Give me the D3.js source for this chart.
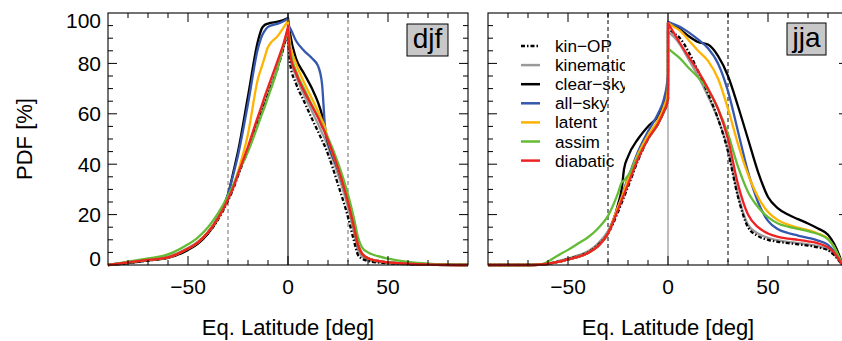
<!DOCTYPE html>
<html><head><meta charset="utf-8">
<script src="https://cdn.jsdelivr.net/npm/d3@7/dist/d3.min.js"></script>
<style>
body{margin:0;background:#fff}
text{font-family:"Liberation Sans",Arial,Helvetica,sans-serif;fill:#000}
</style>
</head><body>
<svg id="chart" width="842" height="341"></svg>
<script>
// ---------------- DATA ----------------
const seriesNames  = ["kin\u2212OP","kinematic","clear\u2212sky","all\u2212sky","latent","assim","diabatic"];
const seriesColors = ["#000000","#9a9a9a","#000000","#3557ad","#ffb300","#64bb35","#ee2222"];
const seriesDash   = ["4,2,1.5,2",null,null,null,null,null,null];
const drawOrder    = [1,0,2,3,4,5,6];

const xTicksMajor = [-50,0,50];
const xTickLabels = ["\u221250","0","50"];
const yTicksMajor = [0,20,40,60,80,100];
const yTickLabels = ["0","20","40","60","80","100"];
const dashedLats  = [-30,30];
const panelLabels = ["djf","jja"];

// DJF  (order of rows follows seriesNames)
const djfLeftLat = [-90,-80,-70,-60,-50,-45,-40,-35,-30,-27,-25,-20,-15,-13,-12,-10,-5,-2,0];
const djfLeft = [
  [0,0.8,1.8,3,6.2,8.8,12.5,18,25.5,31,35.5,45.5,56.5,61,63,67.5,78.5,87,93],   // kin-OP
  [0,1,2,3.3,6.7,9.3,13,18.5,26,31.5,36,46,57,61.5,63.5,68,79,87,93],           // kinematic
  [0,0.8,1.8,2.8,6,8.5,12.5,18.5,28,38,45,67,89,94,95,95.8,96.6,97.3,98],       // clear-sky
  [0,1,2,3,6.5,9,13,19,28,37,43.5,64,86,91,92.5,94.5,95.8,96.8,97.8],          // all-sky
  [0,1,2,3,6.5,9,13,18.5,26.5,32,37,52,74,79,81.5,86.5,91,94.5,97],             // latent
  [0,1.3,2.6,4.2,8.2,11,15,20.5,27.5,32.5,36.5,45,55.5,60,62,66.5,78.5,88,93],  // assim
  [0,1,2,3,6.5,9,13,18.5,26,31.5,36,47,59,63.5,66,70.5,81.5,88.5,94.5]          // diabatic
];
const djfRightLat = [0,1,4,8,12,15,17,18.5,20,25,30,33,35,37,40,45,50,60,70,90];
const djfRight = [
  [93,80,72,65,58,53,49.5,47,44,32,19,9.5,4,2.5,1.6,1,0.7,0.3,0.1,0],          // kin-OP
  [93,83,75,67.5,61,56,52.5,50,47,36,23,13,6,3.5,2,1.2,0.8,0.4,0.1,0],         // kinematic
  [98,92,82,76,70,64.5,59.5,53.5,48.5,38,25,15,8,4.5,2.7,1.6,1,0.5,0.2,0],     // clear-sky
  [95,94,89,85,82,79,72,55,49,38,25,15,8,4.5,2.7,1.6,1,0.5,0.2,0],             // all-sky
  [97,88,80,72.5,66,61,57.5,54.5,50,38.5,25,15,8,4.5,2.7,1.6,1,0.5,0.2,0],     // latent
  [93,86,77,70,63.5,59,55.5,53,50.5,40.5,28,18.5,11,7,5,3.5,2.5,1.2,0.5,0],    // assim
  [95,84,76,69,63,58.5,55,52.5,49.5,38.5,25,15,8,4.5,2.7,1.6,1,0.5,0.2,0]      // diabatic
];

// JJA
const jjaLeftLat = [-90,-70,-65,-62,-60,-55,-50,-45,-40,-35,-30,-25,-23,-22,-20,-15,-10,-5,-2,-0.5,0];
const jjaLeft = [
  [0,0,0.1,0.3,0.5,1.3,2.4,3.5,5,8,12.5,21,25,27,31,41.5,50,56,61,64,66],       // kin-OP
  [0,0,0.2,0.4,0.6,1.5,2.6,3.8,5.5,8.5,13.5,22.5,26.5,28.5,32.5,42.5,50.5,56,61,64,66], // kinematic
  [0,0,0.1,0.3,0.5,1.2,2.2,3.2,4.8,7.5,12.5,24,31,38,43,50,55,59,64,68,71],    // clear-sky
  [0,0,0.1,0.3,0.5,1.2,2.2,3.2,4.8,7.5,12.5,23,27.5,30,34.5,45,53,60,66,72,76],// all-sky
  [0,0,0.1,0.3,0.5,1.2,2.2,3.2,4.8,7.5,12.5,23,27,29.5,34,44,51.5,57.5,63,67,70], // latent
  [0,0,0.1,0.6,1.4,3.8,6,8.5,11,14.5,19.5,28.5,33,33.5,35.5,43,50,56,61,64.5,66], // assim
  [0,0,0.1,0.3,0.5,1.2,2.2,3.2,4.8,7.5,12.5,22,26,28,32,42,50,56,61,64,66]     // diabatic
];
const jjaRightLat = [0,3,6,10,15,20,25,30,35,40,45,50,55,60,65,70,75,80,83,86,87,90];
const jjaRight = [
  [94,92,90,85,77,68,58,45,27,15,11.5,10,9.2,8.7,8.2,7.7,7,5.8,4,1.2,0.3,0],     // kin-OP
  [92.5,90.5,87.5,82,75,67,58,46,28,16,12.5,10.8,9.8,9.2,8.7,8.2,7.5,6.2,4.3,1.3,0.3,0], // kinematic
  [96,95,93.5,91,88.5,87.5,83,75,63,50,37,27,22.5,20,18.2,16.5,14.5,12,8.5,3,0.5,0], // clear-sky
  [96.5,95.5,94.5,92.5,89.5,86,80,69,53,37,25,17.5,14.2,12.7,11.7,10.8,9.7,8,5.5,1.8,0.4,0], // all-sky
  [96,94.5,93,89.5,85,81,74,62,48,36,27,21,17.8,16,14.8,13.8,12.5,10.3,7.2,2.2,0.5,0], // latent
  [86,84,82,78.5,74.5,69.5,62,52,39,29,23,19,16.5,15.2,14.3,13.4,12.3,10.2,7.2,2.2,0.5,0], // assim
  [96,92,88,83,77,70,62,50,32,20,15,12.5,11.2,10.5,10,9.4,8.6,7,5,1.5,0.3,0]     // diabatic
];

// ---------------- LAYOUT ----------------
const svg = d3.select("#chart");
const yTop = 13, yBot = 265;
const y = d3.scaleLinear().domain([0,100]).range([yBot,yTop]);

const panels = [
  {label:panelLabels[0], x0:108, x1:468, lLat:djfLeftLat, lVal:djfLeft, rLat:djfRightLat, rVal:djfRight,
   zeroCol:"#000", dashCol:"#6a6a6a", yLabels:true, legend:false, box:[407,24,41,32]},
  {label:panelLabels[1], x0:488, x1:848, lLat:jjaLeftLat, lVal:jjaLeft, rLat:jjaRightLat, rVal:jjaRight,
   zeroCol:"#8a8a8a", dashCol:"#000", yLabels:false, legend:true, box:[787,23,39,32]}
];

panels.forEach((p,pi)=>{
  const x = d3.scaleLinear().domain([-90,90]).range([p.x0,p.x1]);
  const g = svg.append("g");
  const clipId = "clip"+pi;
  svg.append("clipPath").attr("id",clipId).append("rect")
    .attr("x",p.x0).attr("y",yTop-2).attr("width",p.x1-p.x0).attr("height",yBot-yTop+4);

  // reference lines
  g.append("line").attr("x1",x(0)).attr("x2",x(0)).attr("y1",yTop).attr("y2",yBot)
    .attr("stroke",p.zeroCol).attr("stroke-width",1.1);
  dashedLats.forEach(l=>{
    g.append("line").attr("x1",x(l)).attr("x2",x(l)).attr("y1",yTop).attr("y2",yBot)
      .attr("stroke",p.dashCol).attr("stroke-width",1).attr("stroke-dasharray","4,3");
  });

  // curves
  const line = d3.line().x(d=>x(d[0])).y(d=>y(d[1])).curve(d3.curveMonotoneX);
  const cg = g.append("g").attr("clip-path",`url(#${clipId})`);
  drawOrder.forEach(si=>{
    const L = p.lLat.map((l,i)=>[l,p.lVal[si][i]]);
    const R = p.rLat.map((l,i)=>[l,p.rVal[si][i]]);
    const d = line(L) + line(R).replace(/^M/,"L");
    cg.append("path").attr("d",d).attr("fill","none")
      .attr("stroke",seriesColors[si]).attr("stroke-width",2.3)
      .attr("stroke-linejoin","round")
      .attr("stroke-dasharray",seriesDash[si]);
  });

  // frame
  g.append("rect").attr("x",p.x0).attr("y",yTop).attr("width",p.x1-p.x0).attr("height",yBot-yTop)
    .attr("fill","none").attr("stroke","#000").attr("stroke-width",1.1);

  // ticks (inward, mirrored)
  const tk = g.append("g").attr("stroke","#000").attr("stroke-width",1);
  d3.range(-80,81,10).forEach(v=>{
    const len = (v%50===0)?9:5;
    tk.append("line").attr("x1",x(v)).attr("x2",x(v)).attr("y1",yBot).attr("y2",yBot-len);
    tk.append("line").attr("x1",x(v)).attr("x2",x(v)).attr("y1",yTop).attr("y2",yTop+len);
  });
  d3.range(5,100,5).forEach(v=>{
    const len = (v%20===0)?9:5;
    tk.append("line").attr("x1",p.x0).attr("x2",p.x0+len).attr("y1",y(v)).attr("y2",y(v));
    tk.append("line").attr("x1",p.x1).attr("x2",p.x1-len).attr("y1",y(v)).attr("y2",y(v));
  });

  // x tick labels
  xTicksMajor.forEach((v,i)=>{
    g.append("text").attr("x",x(v)).attr("y",293.5).attr("text-anchor","middle")
      .attr("font-size",21).text(xTickLabels[i]);
  });
  // y tick labels
  if(p.yLabels){
    yTicksMajor.forEach((v,i)=>{
      const cy = Math.max(yTop+7, Math.min(yBot-7, y(v)));
      g.append("text").attr("x",p.x0-7).attr("y",cy+7.5).attr("text-anchor","end")
        .attr("font-size",21).text(yTickLabels[i]);
    });
    svg.append("text").attr("transform",`translate(32,139) rotate(-90)`)
      .attr("text-anchor","middle").attr("font-size",22).text("PDF [%]");
  }
  // x title
  g.append("text").attr("x",x(0)).attr("y",335).attr("text-anchor","middle")
    .attr("font-size",22).text("Eq. Latitude [deg]");

  // panel label box
  const b = p.box;
  g.append("rect").attr("x",b[0]).attr("y",b[1]).attr("width",b[2]).attr("height",b[3])
    .attr("fill","#c8c8c8").attr("stroke","#000").attr("stroke-width",1);
  g.append("text").attr("x",b[0]+b[2]/2).attr("y",b[1]+24).attr("text-anchor","middle")
    .attr("font-size",28).text(p.label);

  // legend (text clipped on the right as in the original)
  if(p.legend){
    svg.append("clipPath").attr("id","legclip").append("rect")
      .attr("x",500).attr("y",20).attr("width",125).attr("height",160);
    const lg = g.append("g");
    seriesNames.forEach((n,i)=>{
      const cy = 46 + i*19.1;
      lg.append("line").attr("x1",521).attr("x2",540).attr("y1",cy).attr("y2",cy)
        .attr("stroke",seriesColors[i]).attr("stroke-width",2.5)
        .attr("stroke-dasharray",seriesDash[i]);
      lg.append("text").attr("x",555).attr("y",cy+6).attr("font-size",17.2)
        .attr("clip-path","url(#legclip)").text(n);
    });
  }
});
</script>
</body></html>
